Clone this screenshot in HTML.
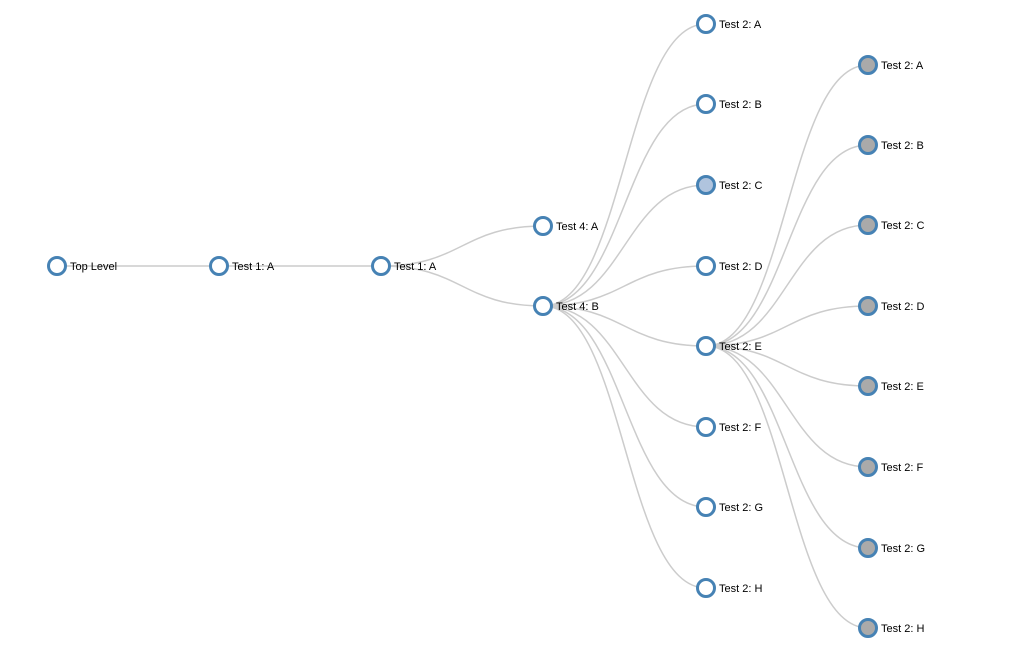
<!DOCTYPE html>
<html><head><meta charset="utf-8"><style>
html,body{margin:0;padding:0;background:#fff;width:1012px;height:663px;overflow:hidden}
svg{display:block}
.l{fill:none;stroke:#ccc;stroke-width:1.5}
.n{stroke:steelblue;stroke-width:3}
text{font-family:"Liberation Sans",sans-serif;font-size:11px;fill:#000}
</style></head><body>
<svg width="1012" height="663" viewBox="0 0 1012 663">
<g>
<path class="l" d="M57,266C138,266 138,266 219,266"/>
<path class="l" d="M219,266C300,266 300,266 381,266"/>
<path class="l" d="M381,266C462,266 462,226 543,226"/>
<path class="l" d="M381,266C462,266 462,306 543,306"/>
<path class="l" d="M543,306C624.5,306 624.5,24 706,24"/>
<path class="l" d="M543,306C624.5,306 624.5,104 706,104"/>
<path class="l" d="M543,306C624.5,306 624.5,185 706,185"/>
<path class="l" d="M543,306C624.5,306 624.5,266 706,266"/>
<path class="l" d="M543,306C624.5,306 624.5,346 706,346"/>
<path class="l" d="M543,306C624.5,306 624.5,427 706,427"/>
<path class="l" d="M543,306C624.5,306 624.5,507 706,507"/>
<path class="l" d="M543,306C624.5,306 624.5,588 706,588"/>
<path class="l" d="M706,346C787,346 787,65 868,65"/>
<path class="l" d="M706,346C787,346 787,145 868,145"/>
<path class="l" d="M706,346C787,346 787,225 868,225"/>
<path class="l" d="M706,346C787,346 787,306 868,306"/>
<path class="l" d="M706,346C787,346 787,386 868,386"/>
<path class="l" d="M706,346C787,346 787,467 868,467"/>
<path class="l" d="M706,346C787,346 787,548 868,548"/>
<path class="l" d="M706,346C787,346 787,628 868,628"/>
</g>
<g>
<circle class="n" cx="57" cy="266" r="8.5" fill="#fff"/><text x="70" y="270">Top Level</text>
<circle class="n" cx="219" cy="266" r="8.5" fill="#fff"/><text x="232" y="270">Test 1: A</text>
<circle class="n" cx="381" cy="266" r="8.5" fill="#fff"/><text x="394" y="270">Test 1: A</text>
<circle class="n" cx="543" cy="226" r="8.5" fill="#fff"/><text x="556" y="230">Test 4: A</text>
<circle class="n" cx="543" cy="306" r="8.5" fill="#fff"/><text x="556" y="310">Test 4: B</text>
<circle class="n" cx="706" cy="24" r="8.5" fill="#fff"/><text x="719" y="28">Test 2: A</text>
<circle class="n" cx="706" cy="104" r="8.5" fill="#fff"/><text x="719" y="108">Test 2: B</text>
<circle class="n" cx="706" cy="185" r="8.5" fill="#b0c4de"/><text x="719" y="189">Test 2: C</text>
<circle class="n" cx="706" cy="266" r="8.5" fill="#fff"/><text x="719" y="270">Test 2: D</text>
<circle class="n" cx="706" cy="346" r="8.5" fill="#fff"/><text x="719" y="350">Test 2: E</text>
<circle class="n" cx="706" cy="427" r="8.5" fill="#fff"/><text x="719" y="431">Test 2: F</text>
<circle class="n" cx="706" cy="507" r="8.5" fill="#fff"/><text x="719" y="511">Test 2: G</text>
<circle class="n" cx="706" cy="588" r="8.5" fill="#fff"/><text x="719" y="592">Test 2: H</text>
<circle class="n" cx="868" cy="65" r="8.5" fill="#aaa"/><text x="881" y="69">Test 2: A</text>
<circle class="n" cx="868" cy="145" r="8.5" fill="#aaa"/><text x="881" y="149">Test 2: B</text>
<circle class="n" cx="868" cy="225" r="8.5" fill="#aaa"/><text x="881" y="229">Test 2: C</text>
<circle class="n" cx="868" cy="306" r="8.5" fill="#aaa"/><text x="881" y="310">Test 2: D</text>
<circle class="n" cx="868" cy="386" r="8.5" fill="#aaa"/><text x="881" y="390">Test 2: E</text>
<circle class="n" cx="868" cy="467" r="8.5" fill="#aaa"/><text x="881" y="471">Test 2: F</text>
<circle class="n" cx="868" cy="548" r="8.5" fill="#aaa"/><text x="881" y="552">Test 2: G</text>
<circle class="n" cx="868" cy="628" r="8.5" fill="#aaa"/><text x="881" y="632">Test 2: H</text>
</g>
</svg>
</body></html>
